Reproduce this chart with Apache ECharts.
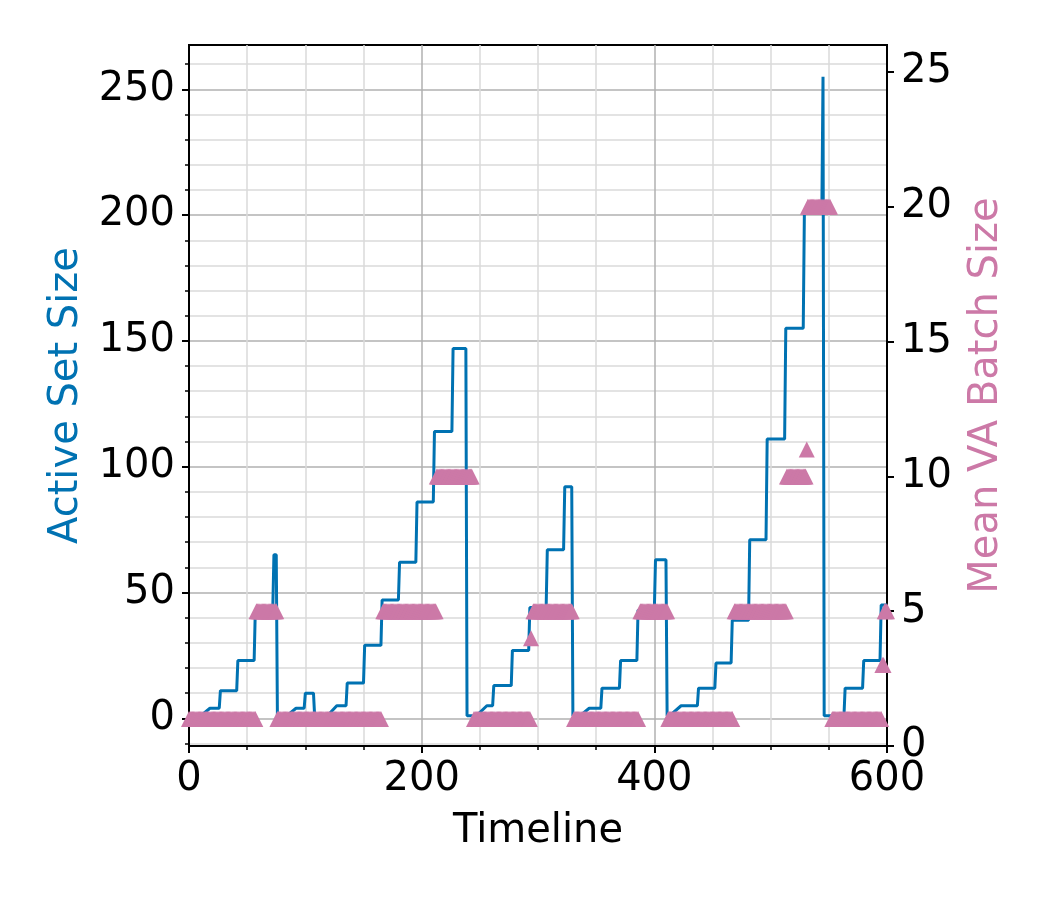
<!DOCTYPE html>
<html>
<head>
<meta charset="utf-8">
<script src="https://cdn.jsdelivr.net/npm/echarts@6/dist/echarts.min.js"></script>
<style>
html,body{margin:0;padding:0;background:#fff;}
#container1{width:1050px;height:900px;}
</style>
</head>
<body>
<div id="container1"></div>
<script>
//蓝线 Active Set Size 的拐点 [timeline, size]
var activeSet=[
 [0,1],[10,1],[18,4],[26,4],[27,11],[41,11],[42,23],[56,23],[57,43],[72,43],[73,65],[75,65],[76,1],
 [84,1],[92,4],[99,4],[100,10],[107,10],[108,1],[119,1],[127,5],[135,5],[136,14],[150,14],[151,29],
 [165,29],[166,47],[180,47],[181,62],[195,62],[196,86],[210,86],[211,114],[226,114],[227,147],[238,147],[239,1],
 [247,1],[256,5],[261,5],[262,13],[277,13],[278,27],[292,27],[293,44],[307,44],[308,67],[322,67],[323,92],[329,92],[330,1],
 [336,1],[344,4],[354,4],[355,12],[370,12],[371,23],[385,23],[386,43],[400,43],[401,63],[410,63],[411,1],
 [413,1],[423,5],[437,5],[438,12],[452,12],[453,22],[466,22],[467,39],[481,39],[482,71],[496,71],[497,111],
 [512,111],[513,155],[528,155],[529,202],[544,202],[545,255],[546,1],
 [563,1],[564,12],[579,12],[580,23],[594,23],[595,45],[600,45]
];
//粉色三角 Mean VA Batch Size，按段记录 [起点, 终点, 值]
var batchRuns=[
 [0,57,1],[58,75,5],[76,165,1],[167,212,5],[213,243,10],
 [245,293,1],[294,294,4],[296,329,5],[331,386,1],[388,411,5],
 [412,467,1],[469,513,5],[514,530,10],[531,531,11],[532,551,20],
 [553,595,1],[596,597,3],[598,600,5]
];
var leftTicks=[0,50,100,150,200,250];
var leftMinorTicks=[-10,10,20,30,40,60,70,80,90,110,120,130,140,160,170,180,190,210,220,230,240,260];
var rightTicks=[0,5,10,15,20,25];

var batchPoints=[];
for(var i=0;i<batchRuns.length;i++){
  for(var t=batchRuns[i][0];t<=batchRuns[i][1];t++){
    batchPoints.push([t,batchRuns[i][2]]);
  }
}

var myChart=echarts.init(document.getElementById('container1'),null,{renderer:'canvas'});
var font='DejaVu Sans';
var option={
  animation:false,
  backgroundColor:'#fff',
  textStyle:{fontFamily:font},
  grid:{left:189,right:163,top:45,bottom:154,show:true,borderColor:'#000',borderWidth:2,backgroundColor:'transparent'},
  xAxis:{
    type:'value',min:0,max:600,interval:200,
    name:'Timeline',nameLocation:'middle',nameGap:66,
    nameTextStyle:{fontSize:40,color:'#000',fontFamily:font},
    axisLine:{show:true,onZero:false,lineStyle:{color:'#000',width:2}},
    axisTick:{show:true,length:7,lineStyle:{color:'#000',width:2}},
    minorTick:{show:true,splitNumber:4,length:4,lineStyle:{color:'#000',width:1.5}},
    axisLabel:{fontSize:40,color:'#000',margin:14,showMinLabel:true,showMaxLabel:true,fontFamily:font},
    splitLine:{show:true,lineStyle:{color:'#b0b0b0',width:1.5}},
    minorSplitLine:{show:true,lineStyle:{color:'#dadada',width:1.5}}
  },
  yAxis:[{
    type:'value',position:'left',min:-11,max:267.6,
    name:'Active Set Size',nameLocation:'middle',nameGap:102,nameRotate:90,
    nameTextStyle:{fontSize:40,color:'#0072B2',fontFamily:font},
    axisLine:{show:true,onZero:false,lineStyle:{color:'#000',width:2}},
    axisTick:{show:true,length:7,customValues:leftTicks,lineStyle:{color:'#000',width:2}},
    axisLabel:{fontSize:40,color:'#000',margin:14,customValues:leftTicks,fontFamily:font},
    splitLine:{show:true,lineStyle:{color:'#b0b0b0',width:1.5}}
  },{
    //只画次刻度和浅色网格
    type:'value',position:'left',min:-11,max:267.6,
    axisLine:{show:true,onZero:false,lineStyle:{color:'#000',width:2}},
    axisTick:{show:true,length:4,customValues:leftMinorTicks,lineStyle:{color:'#000',width:1.5}},
    axisLabel:{show:false},
    splitLine:{show:true,lineStyle:{color:'#dadada',width:1.5}}
  },{
    type:'value',position:'right',min:0,max:26,
    name:'Mean VA Batch Size',nameLocation:'middle',nameGap:80,nameRotate:90,
    nameTextStyle:{fontSize:40,color:'#CC79A7',fontFamily:font},
    axisLine:{show:true,onZero:false,lineStyle:{color:'#000',width:2}},
    axisTick:{show:true,length:7,customValues:rightTicks,lineStyle:{color:'#000',width:2}},
    axisLabel:{fontSize:40,color:'#000',margin:14,customValues:rightTicks,fontFamily:font},
    splitLine:{show:false}
  }],
  series:[{
    name:'Active Set Size',type:'line',yAxisIndex:0,
    data:activeSet,showSymbol:false,symbol:'none',
    lineStyle:{color:'#0072B2',width:3},z:2
  },{
    name:'Mean VA Batch Size',type:'scatter',yAxisIndex:2,
    data:batchPoints,symbol:'triangle',symbolSize:16,
    itemStyle:{color:'#CC79A7',opacity:1},z:3
  }]
};
myChart.setOption(option);
</script>
</body>
</html>
